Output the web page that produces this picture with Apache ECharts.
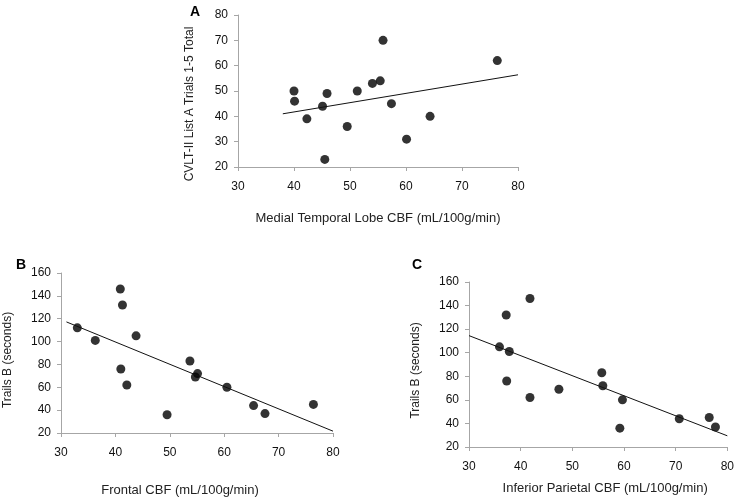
<!DOCTYPE html>
<html>
<head>
<meta charset="utf-8">
<script src="https://cdn.jsdelivr.net/npm/echarts@6/dist/echarts.min.js"></script>
<style>
  html, body { margin: 0; padding: 0; background: #fff; }
  #chart { width: 737px; height: 498px; }
</style>
</head>
<body>
<div id="chart"></div>
<script>
// panel A: medial temporal lobe CBF vs CVLT-II
var cbfA = [40.0, 40.1, 42.3, 45.1, 45.9, 45.5, 49.5, 51.3, 54.0, 55.4, 55.9, 57.4, 60.1, 64.3, 76.3];
var cvltA = [50, 46, 39, 44, 49, 23, 36, 50, 53, 54, 70, 45, 31, 40, 62];
var trendA = [[38, 41], [80, 56.4]];

// panel B: frontal CBF vs Trails B
var cbfB = [33.0, 36.3, 40.9, 41.3, 41.0, 42.1, 43.8, 49.5, 53.7, 54.7, 55.1, 60.5, 65.4, 67.5, 76.4];
var trailsB = [112, 101, 146, 132, 76, 62, 105, 36, 83, 69, 72, 60, 44, 37, 45];
var trendB = [[31, 117.2], [80, 21.6]];

// panel C: inferior parietal CBF vs Trails B
var cbfC = [35.9, 37.2, 37.8, 37.3, 41.8, 41.8, 47.4, 55.7, 55.9, 59.2, 59.7, 70.7, 76.5, 77.7];
var trailsC = [105, 132, 101, 76, 146, 62, 69, 83, 72, 36, 60, 44, 45, 37];
var trendC = [[30, 114.5], [80, 29.5]];

var xTicks = [30, 40, 50, 60, 70, 80];
var yTicksA = [20, 30, 40, 50, 60, 70, 80];
var yTicksBC = [20, 40, 60, 80, 100, 120, 140, 160];

var FONT = '"Liberation Sans", Arial, sans-serif';

function pairs(xs, ys) {
    var out = [];
    for (var i = 0; i < xs.length; i++) {
        out.push([xs[i], ys[i]]);
    }
    return out;
}

//坐标轴公共样式 (pad 用来微调轴名位置)
function makeX(idx, name, gap, pad) {
    return {
        gridIndex: idx,
        type: 'value',
        min: xTicks[0],
        max: xTicks[xTicks.length - 1],
        interval: 10,
        name: name,
        nameLocation: 'middle',
        nameGap: gap,
        nameTextStyle: { fontFamily: FONT, fontSize: 13, color: '#222', padding: pad },
        axisLine: { show: true, lineStyle: { color: '#a6a6a6', width: 1 } },
        axisTick: { show: true, length: 4, lineStyle: { color: '#a6a6a6' } },
        axisLabel: { margin: 14, fontFamily: FONT, fontSize: 12, color: '#111' },
        splitLine: { show: false }
    };
}

function makeY(idx, ticks, name, gap, pad) {
    return {
        gridIndex: idx,
        type: 'value',
        min: ticks[0],
        max: ticks[ticks.length - 1],
        interval: ticks[1] - ticks[0],
        name: name,
        nameLocation: 'middle',
        nameGap: gap,
        nameTextStyle: { fontFamily: FONT, fontSize: 12, color: '#222', padding: pad },
        axisLine: { show: true, lineStyle: { color: '#a6a6a6', width: 1 } },
        axisTick: { show: true, length: 4, lineStyle: { color: '#a6a6a6' } },
        axisLabel: { margin: 10, fontFamily: FONT, fontSize: 12, color: '#111' },
        splitLine: { show: false }
    };
}

function dots(idx, data) {
    return {
        type: 'scatter',
        xAxisIndex: idx,
        yAxisIndex: idx,
        symbolSize: 9,
        itemStyle: { color: '#000' },
        data: data
    };
}

function trend(idx, data) {
    return {
        type: 'line',
        xAxisIndex: idx,
        yAxisIndex: idx,
        showSymbol: false,
        silent: true,
        lineStyle: { color: '#111', width: 1 },
        data: data
    };
}

var Chart = echarts.init(document.getElementById('chart'), null, { renderer: 'canvas' });
Chart.setOption({
    animation: false,
    backgroundColor: '#fff',
    title: [
        { text: 'A', left: 185, top: 0, textStyle: { fontFamily: FONT, fontSize: 14, fontWeight: 'bold', color: '#000' } },
        { text: 'B', left: 11, top: 253, textStyle: { fontFamily: FONT, fontSize: 14, fontWeight: 'bold', color: '#000' } },
        { text: 'C', left: 407, top: 253, textStyle: { fontFamily: FONT, fontSize: 14, fontWeight: 'bold', color: '#000' } }
    ],
    grid: [
        { left: 238, top: 15, width: 280, height: 152 },
        { left: 61, top: 273, width: 272, height: 169 },
        { left: 469, top: 282, width: 259, height: 165 }
    ],
    xAxis: [
        makeX(0, 'Medial Temporal Lobe CBF (mL/100g/min)', 45, [0, 0, 0, 0]),
        makeX(1, 'Frontal CBF (mL/100g/min)', 51, [0, 34, 0, 0]),
        makeX(2, 'Inferior Parietal CBF (mL/100g/min)', 35, [0, 0, 0, 14])
    ],
    yAxis: [
        makeY(0, yTicksA, 'CVLT-II List A Trials 1-5 Total', 42, [0, 26, 0, 0]),
        makeY(1, yTicksBC, 'Trails B (seconds)', 47, [0, 14, 0, 0]),
        makeY(2, yTicksBC, 'Trails B (seconds)', 47, [0, 12, 0, 0])
    ],
    series: [
        trend(0, trendA),
        dots(0, pairs(cbfA, cvltA)),
        trend(1, trendB),
        dots(1, pairs(cbfB, trailsB)),
        trend(2, trendC),
        dots(2, pairs(cbfC, trailsC))
    ]
});
</script>
</body>
</html>
